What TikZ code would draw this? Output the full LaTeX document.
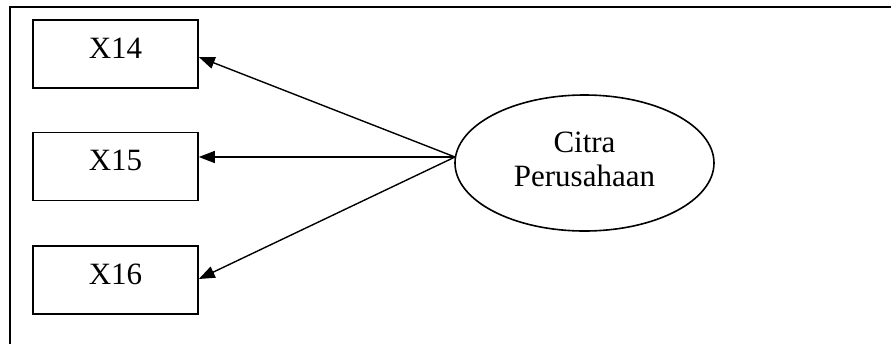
\documentclass[tikz,border=0pt]{standalone}
\usepackage{fontspec}
\setmainfont{Liberation Serif}
\usetikzlibrary{shapes.geometric,arrows.meta}
\begin{document}
\begin{tikzpicture}[x=0.5pt,y=-0.5pt,
  txt/.style={font=\fontsize{15.5}{17}\selectfont, inner sep=0pt},
  obsbox/.style={draw, line width=0.8pt, minimum width=82.5pt, minimum height=34pt, inner sep=0pt, text depth=6pt, font=\fontsize{15.5}{17}\selectfont},
  latent/.style={draw, ellipse, line width=0.8pt, minimum width=129.5pt, minimum height=68pt, inner sep=0pt},
  link/.style={line width=0.7pt, -{Triangle[length=8pt,width=6pt]}}]
\useasboundingbox (0,0) rectangle (891,344);
\fill[white] (0,0) rectangle (891,344);
\draw[line width=1.1pt] (891,7) -- (10,7) -- (10,344);
\node[obsbox] (x14) at (115.5,54) {X14};
\node[obsbox] (x15) at (115.5,166.5) {X15};
\node[obsbox] (x16) at (115.5,280) {X16};
\node[latent] (cp) at (584.5,163) {};
\node[txt, align=center] (cpt) at (584.5,159) {Citra\\Perusahaan};
\coordinate (src) at (455,157);
\coordinate (t14) at (x14.east |- 0,57);
\coordinate (t15) at (x15.east |- 0,157);
\coordinate (t16) at (x16.east |- 0,279);
\draw[link] (src) -- (t14);
\draw[link] (src) -- (t15);
\draw[link] (src) -- (t16);
\end{tikzpicture}
\end{document}
